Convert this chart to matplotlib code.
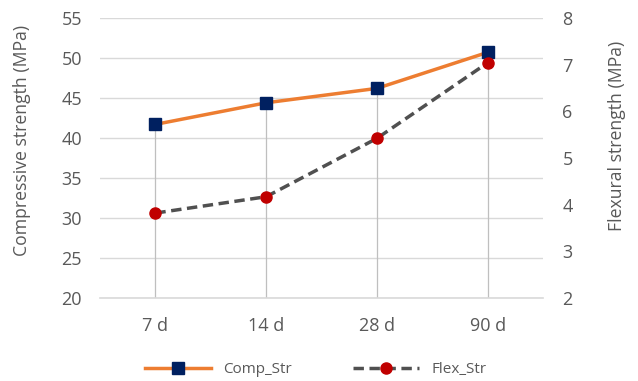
import matplotlib
matplotlib.use("Agg")
import matplotlib.pyplot as plt
from matplotlib.lines import Line2D

ages = ["7 d", "14 d", "28 d", "90 d"]
comp_str = [41.7, 44.4, 46.2, 50.7]
flex_str = [3.82, 4.17, 5.42, 7.04]

plt.rcParams['font.family'] = ['Open Sans', 'DejaVu Sans']
txt = '#595959'
grid = '#D9D9D9'

fig = plt.figure(figsize=(6.38, 3.81), dpi=100)
ax = fig.add_axes([0.1567, 0.2178, 0.6944, 0.735])
ax2 = ax.twinx()

x = list(range(len(ages)))

# gridlines and drop lines
for y in range(20, 56, 5):
    ax.axhline(y, color=grid, lw=1, zorder=0)
ax.vlines(x, 20, comp_str, color='#BFBFBF', lw=0.9, zorder=1)

ax.plot(x, comp_str, color='#ED7D31', lw=2.5, marker='s', ms=8,
        mfc='#002060', mec='#002060', zorder=3)
ax2.plot(x, flex_str, color='#505050', lw=2.5, ls=(0, (3, 1.6)), marker='o', ms=8,
         mfc='#C00000', mec='#C00000', zorder=3)

ax.set_xlim(-0.5, 3.5)
ax.set_ylim(20, 55)
ax2.set_ylim(2, 8)
ax.set_xticks(x)
ax.set_xticklabels(ages)
ax.set_yticks(range(20, 56, 5))
ax2.set_yticks(range(2, 9))

for a in (ax, ax2):
    for s in a.spines.values():
        s.set_visible(False)
    a.tick_params(length=0, labelsize=13, colors=txt)
ax.spines['bottom'].set_visible(True)
ax.spines['bottom'].set_color(grid)
ax.spines['bottom'].set_linewidth(1.2)
ax.tick_params(axis='x', pad=14)
ax.tick_params(axis='y', pad=13)
ax2.tick_params(axis='y', pad=14)

ax.set_ylabel('Compressive strength (MPa)', fontsize=12.7, color=txt)
ax2.set_ylabel('Flexural strength (MPa)', fontsize=12.7, color=txt, rotation=90)
ax.yaxis.set_label_coords(-0.176, 0.564)
ax2.yaxis.set_label_coords(1.167, 0.579)
ax2.yaxis.label.set_va('center')
ax.yaxis.label.set_va('center')

handles = [
    Line2D([], [], color='#ED7D31', lw=2.5, marker='s', ms=8, mfc='#002060', mec='#002060'),
    Line2D([], [], color='#505050', lw=2.5, ls=(0, (3, 1.6)), marker='o', ms=8, mfc='#C00000', mec='#C00000'),
]
fig.legend(handles, ['Comp_Str', 'Flex_Str'], loc='center', bbox_to_anchor=(0.495, 0.03),
           ncol=2, frameon=False, fontsize=11, handlelength=4.3, columnspacing=4,
           labelcolor=txt)

fig.savefig('out.png', dpi=100)
